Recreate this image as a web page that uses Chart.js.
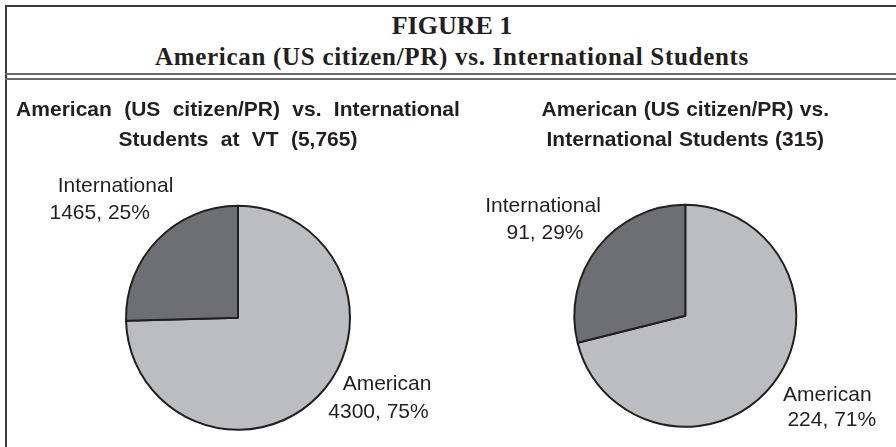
<!DOCTYPE html>
<html>
<head>
<meta charset="utf-8">
<script src="https://cdn.jsdelivr.net/npm/chart.js@4.4.1/dist/chart.umd.min.js"></script>
<style>
  html, body { margin: 0; padding: 0; background: #ffffff; }
  #page { position: relative; width: 896px; height: 447px; overflow: hidden; background: #fff; }
  .rule { position: absolute; background: #3a3a3a; }
  .dbl { position: absolute; background: #6a6a6a; }
  .hdr { position: absolute; left: 0; width: 904px; text-align: center; white-space: nowrap;
         font-family: "Liberation Serif", "Times New Roman", serif; font-weight: bold; color: #231f20; }
  canvas { position: absolute; top: 0; }
</style>
</head>
<body>
<div id="page">
  <div class="rule" style="left:5px; top:5px; width:891px; height:1.5px;"></div>
  <div class="rule" style="left:5px; top:5px; width:1.5px; height:442px;"></div>
  <div class="dbl" style="left:5px; top:73px; width:891px; height:2px;"></div>
  <div class="dbl" style="left:5px; top:78px; width:891px; height:2px;"></div>
  <div class="hdr" id="h1" style="top:12.5px; font-size:26px; line-height:26px;"></div>
  <div class="hdr" id="h2" style="top:44.4px; font-size:25px; line-height:25px; letter-spacing:0.7px;"></div>
  <canvas id="c1" width="480" height="447" style="left:0px;"></canvas>
  <canvas id="c2" width="480" height="447" style="left:416px;"></canvas>
</div>
<script>
// ---- data ----
const figureLabel = 'FIGURE 1';
const figureTitle = 'American (US citizen/PR) vs. International Students';
const categories = ['American', 'International'];
const vtCounts = [4300, 1465];
const groupCounts = [224, 91];
const vtTitle = ['American (US citizen/PR) vs. International', 'Students at VT (5,765)'];
const groupTitle = ['American (US citizen/PR) vs.', 'International Students (315)'];

document.getElementById('h1').textContent = figureLabel;
document.getElementById('h2').textContent = figureTitle;

const sliceColors = ['#bcbdc1', '#6e6f73'];
const inkColor = '#231f20';

// label placement (pixel offsets from pie centre, per slice, per line)
const labelPlugin = {
  id: 'sliceLabels',
  beforeDraw(chart, args, opts) {
    chart.ctx.letterSpacing = '0px';
    chart.ctx.wordSpacing = opts.titleWordSpacing;
  },
  afterDatasetsDraw(chart, args, opts) {
    const ctx = chart.ctx;
    const meta = chart.getDatasetMeta(0);
    const data = chart.data.datasets[0].data;
    const total = data.reduce((a, b) => a + b, 0);
    ctx.save();
    ctx.wordSpacing = '0px';
    ctx.font = '21px "Liberation Sans", Arial, sans-serif';
    ctx.fillStyle = inkColor;
    ctx.textAlign = 'center';
    ctx.textBaseline = 'middle';
    meta.data.forEach((arc, i) => {
      const pct = Math.round(data[i] / total * 100);
      const lines = [chart.data.labels[i], data[i] + ', ' + pct + '%'];
      const offs = opts.offsets[i];
      lines.forEach((t, j) => {
        ctx.fillText(t, arc.x + offs[j][0], arc.y + offs[j][1]);
      });
    });
    ctx.restore();
  },
  afterDraw(chart) {
    chart.ctx.wordSpacing = '0px';
  }
};

function makePie(id, counts, titleLines, pad, titlePadBottom, radius, wordSp, offsets) {
  return new Chart(document.getElementById(id), {
    type: 'pie',
    data: {
      labels: categories,
      datasets: [{
        data: counts,
        backgroundColor: sliceColors,
        borderColor: inkColor,
        borderWidth: 2,
        radius: radius
      }]
    },
    options: {
      responsive: false,
      animation: false,
      devicePixelRatio: 1,
      rotation: 0,
      layout: { padding: pad },
      plugins: {
        legend: { display: false },
        tooltip: { enabled: false },
        title: {
          display: true,
          text: titleLines,
          color: inkColor,
          font: { family: '"Liberation Sans", Arial, sans-serif', size: 21, weight: 'bold', lineHeight: 1.43 },
          padding: { top: 95.3, bottom: titlePadBottom }
        },
        sliceLabels: { offsets: offsets, titleWordSpacing: wordSp }
      }
    },
    plugins: [labelPlugin]
  });
}

makePie('c1', vtCounts, vtTitle, { left: 0, right: 4, top: 0, bottom: 0 }, 33.3, 112, '6.5px',
  [ [[149, 66.2], [140.5, 94.7]], [[-122.5, -131.6], [-138.3, -104.5]] ]);
makePie('c2', groupCounts, groupTitle, { left: 58.6, right: 0, top: 0, bottom: 0 }, 29.3, 111, '0.5px',
  [ [[142, 79.7], [146.5, 104.2]], [[-142.3, -109.5], [-140.3, -82.5]] ]);
</script>
</body>
</html>
